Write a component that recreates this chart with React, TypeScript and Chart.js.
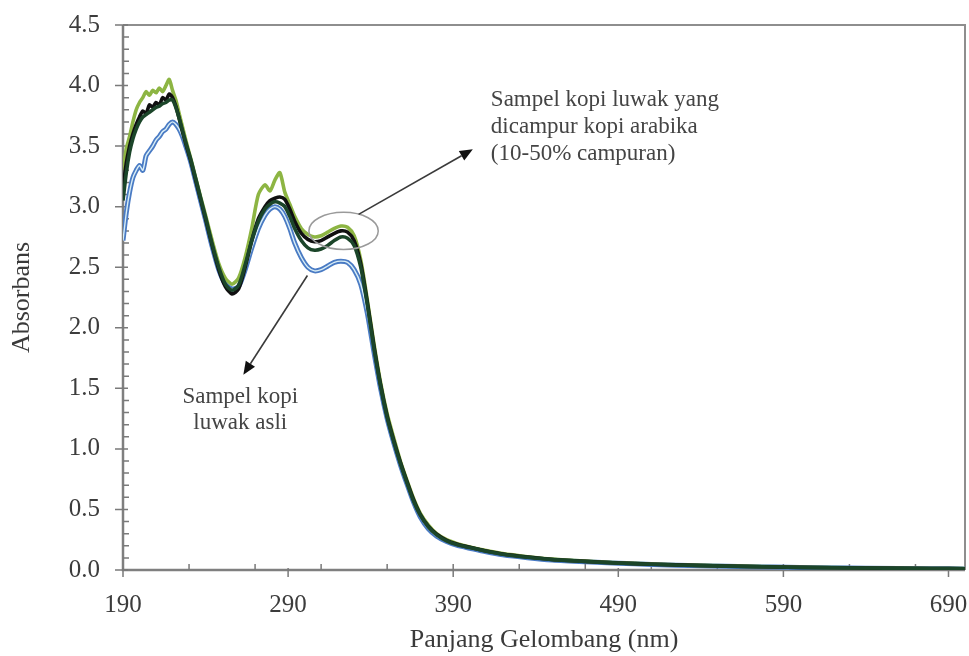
import React, { useEffect, useRef } from "react";
import { Chart, registerables } from "chart.js";

Chart.register(...registerables);

// Wavelength (nm) sample positions
const wavelengths = [
  190, 192, 194, 196, 198, 200, 202, 204, 206, 208,
  210, 212, 214, 216, 218, 220, 222, 224, 226, 228,
  231, 234, 237, 240, 244, 248, 252, 256, 260, 264,
  268, 272, 276, 279, 282, 285, 288, 291, 294, 298,
  302, 306, 310, 314, 318, 322, 326, 330, 334, 338,
  342, 346, 350, 354, 358, 362, 366, 370, 375, 380,
  386, 392, 400, 410, 420, 435, 450, 470, 490, 510,
  540, 570, 600, 640, 680, 700,
];

// Mixed samples (kopi luwak + arabika)
const mixGreen = [
  3.30, 3.48, 3.58, 3.70, 3.80, 3.86, 3.90, 3.95, 3.92, 3.96,
  3.94, 3.98, 3.95, 4.00, 4.05, 3.96, 3.88, 3.77, 3.66, 3.55,
  3.40, 3.24, 3.08, 2.93, 2.72, 2.53, 2.41, 2.36, 2.41, 2.58,
  2.82, 3.10, 3.18, 3.13, 3.22, 3.28, 3.12, 3.02, 2.92, 2.82,
  2.77, 2.75, 2.76, 2.79, 2.82, 2.84, 2.83, 2.76, 2.56, 2.23,
  1.87, 1.55, 1.29, 1.09, 0.90, 0.74, 0.59, 0.47, 0.37, 0.30,
  0.25, 0.22, 0.19, 0.16, 0.135, 0.11, 0.09, 0.073, 0.06, 0.05,
  0.038, 0.03, 0.023, 0.017, 0.013, 0.011,
];

const mixBlack = [
  3.15, 3.36, 3.50, 3.60, 3.68, 3.74, 3.79, 3.77, 3.84, 3.82,
  3.86, 3.84, 3.90, 3.88, 3.93, 3.90, 3.83, 3.73, 3.62, 3.52,
  3.38, 3.22, 3.06, 2.90, 2.68, 2.48, 2.34, 2.28, 2.32, 2.50,
  2.72, 2.90, 3.00, 3.05, 3.07, 3.08, 3.06, 2.98, 2.88, 2.78,
  2.73, 2.71, 2.72, 2.75, 2.78, 2.80, 2.79, 2.72, 2.53, 2.21,
  1.85, 1.53, 1.27, 1.07, 0.89, 0.73, 0.58, 0.46, 0.36, 0.295,
  0.245, 0.215, 0.187, 0.157, 0.132, 0.107, 0.087, 0.071, 0.058, 0.048,
  0.037, 0.029, 0.022, 0.016, 0.012, 0.01,
];

const mixDark = [
  3.05, 3.28, 3.45, 3.56, 3.64, 3.70, 3.74, 3.76, 3.78, 3.80,
  3.82, 3.83, 3.85, 3.86, 3.88, 3.88, 3.82, 3.73, 3.63, 3.53,
  3.39, 3.23, 3.07, 2.91, 2.69, 2.50, 2.36, 2.31, 2.35, 2.52,
  2.72, 2.88, 2.98, 3.02, 3.04, 3.03, 3.00, 2.92, 2.82, 2.72,
  2.66, 2.64, 2.65, 2.68, 2.72, 2.75, 2.74, 2.68, 2.50, 2.19,
  1.83, 1.52, 1.26, 1.06, 0.88, 0.72, 0.57, 0.455, 0.355, 0.29,
  0.24, 0.21, 0.185, 0.155, 0.13, 0.105, 0.086, 0.07, 0.057, 0.047,
  0.036, 0.028, 0.021, 0.016, 0.012, 0.01,
];

// Original kopi luwak sample
const original = [
  2.72, 2.95, 3.12, 3.24, 3.30, 3.34, 3.30, 3.42, 3.46, 3.50,
  3.55, 3.58, 3.62, 3.64, 3.68, 3.70, 3.68, 3.64, 3.58, 3.50,
  3.37, 3.21, 3.05, 2.89, 2.67, 2.48, 2.36, 2.32, 2.34, 2.48,
  2.66, 2.82, 2.93, 2.98, 3.00, 2.98, 2.92, 2.82, 2.70, 2.58,
  2.50, 2.47, 2.48, 2.51, 2.54, 2.55, 2.54, 2.48, 2.36, 2.12,
  1.80, 1.50, 1.25, 1.05, 0.87, 0.71, 0.56, 0.44, 0.34, 0.28,
  0.235, 0.205, 0.18, 0.15, 0.126, 0.102, 0.083, 0.068, 0.056, 0.046,
  0.035, 0.027, 0.021, 0.015, 0.011, 0.009,
];

// Axis ticks
const xTickLabels = [190, 290, 390, 490, 590, 690];
const xMinorTicks = [230, 270, 310, 350, 390, 430, 470, 510, 550, 590, 630, 670];
const yTickLabels = [0, 0.5, 1.0, 1.5, 2.0, 2.5, 3.0, 3.5, 4.0, 4.5];
const yMinorStep = 0.1;

// Annotations (data coordinates)
const ellipseCenter = [323.6, 2.8];
const ellipseRadii = [21, 0.153];
const arrowMixed = [332.7, 2.936, 401.9, 3.474];
const arrowOriginal = [301.7, 2.432, 262.9, 1.613];
const mixedLabel = ["Sampel kopi luwak yang", "dicampur kopi arabika", "(10-50% campuran)"];
const mixedLabelAt = [412.8, 3.879];
const originalLabel = ["Sampel kopi", "luwak asli"];
const originalLabelAt = [261, 1.431];

const SERIF = "'Liberation Serif', 'Times New Roman', serif";

const toPoints = (vals: number[]) => wavelengths.map((w, i) => ({ x: w, y: vals[i] }));

const frameAndTicks = {
  id: "frameAndTicks",
  beforeDatasetsDraw(chart: any) {
    const { ctx, chartArea: a, scales } = chart;
    const x = scales.x;
    const y = scales.y;
    ctx.save();
    ctx.lineCap = "butt";
    ctx.strokeStyle = "#8e8e8e";
    ctx.lineWidth = 2;
    ctx.beginPath();
    ctx.moveTo(a.left, a.top);
    ctx.lineTo(a.right, a.top);
    ctx.lineTo(a.right, a.bottom);
    ctx.stroke();
    ctx.strokeStyle = "#7f7f7f";
    ctx.lineWidth = 2.5;
    ctx.beginPath();
    ctx.moveTo(a.left, a.top);
    ctx.lineTo(a.left, a.bottom);
    ctx.lineTo(a.right, a.bottom);
    ctx.stroke();
    ctx.lineWidth = 1.5;
    ctx.strokeStyle = "#7a7a7a";
    ctx.beginPath();
    xTickLabels.forEach((v) => {
      const px = x.getPixelForValue(v);
      ctx.moveTo(px, a.bottom - 2);
      ctx.lineTo(px, a.bottom + 7);
    });
    xMinorTicks.forEach((v) => {
      const px = x.getPixelForValue(v);
      ctx.moveTo(px, a.bottom - 6);
      ctx.lineTo(px, a.bottom);
    });
    yTickLabels.forEach((v) => {
      const py = y.getPixelForValue(v);
      ctx.moveTo(a.left - 8, py);
      ctx.lineTo(a.left + 5, py);
    });
    for (let i = 0; i < yTickLabels.length - 1; i++) {
      for (let k = 1; k < 5; k++) {
        const v = yTickLabels[i] + k * yMinorStep;
        const py = y.getPixelForValue(v);
        ctx.moveTo(a.left, py);
        ctx.lineTo(a.left + 6, py);
      }
    }
    ctx.stroke();
    ctx.restore();
  },
};

function drawArrow(ctx: CanvasRenderingContext2D, x1: number, y1: number, x2: number, y2: number) {
  const ang = Math.atan2(y2 - y1, x2 - x1);
  const len = 13;
  const hw = 5.5;
  const bx = x2 - len * Math.cos(ang);
  const by = y2 - len * Math.sin(ang);
  ctx.beginPath();
  ctx.moveTo(x1, y1);
  ctx.lineTo(bx, by);
  ctx.stroke();
  ctx.beginPath();
  ctx.moveTo(x2, y2);
  ctx.lineTo(bx + hw * Math.sin(ang), by - hw * Math.cos(ang));
  ctx.lineTo(bx - hw * Math.sin(ang), by + hw * Math.cos(ang));
  ctx.closePath();
  ctx.fill();
}

const annotations = {
  id: "annotations",
  afterDatasetsDraw(chart: any) {
    const { ctx, scales } = chart;
    const x = scales.x;
    const y = scales.y;
    ctx.save();
    const cx = x.getPixelForValue(ellipseCenter[0]);
    const cy = y.getPixelForValue(ellipseCenter[1]);
    const rx = Math.abs(x.getPixelForValue(ellipseCenter[0] + ellipseRadii[0]) - cx);
    const ry = Math.abs(y.getPixelForValue(ellipseCenter[1] + ellipseRadii[1]) - cy);
    ctx.strokeStyle = "#9a9a9a";
    ctx.lineWidth = 1.5;
    ctx.beginPath();
    ctx.ellipse(cx, cy, rx, ry, 0, 0, Math.PI * 2);
    ctx.stroke();
    ctx.strokeStyle = "#3a3a3a";
    ctx.fillStyle = "#111";
    ctx.lineWidth = 1.6;
    [arrowMixed, arrowOriginal].forEach((a) => {
      drawArrow(
        ctx,
        x.getPixelForValue(a[0]),
        y.getPixelForValue(a[1]),
        x.getPixelForValue(a[2]),
        y.getPixelForValue(a[3])
      );
    });
    ctx.fillStyle = "#444444";
    ctx.font = `23px ${SERIF}`;
    ctx.textBaseline = "middle";
    ctx.textAlign = "left";
    const mx = x.getPixelForValue(mixedLabelAt[0]);
    const my = y.getPixelForValue(mixedLabelAt[1]);
    mixedLabel.forEach((t, i) => ctx.fillText(t, mx, my + i * 27));
    ctx.textAlign = "center";
    const ox = x.getPixelForValue(originalLabelAt[0]);
    const oy = y.getPixelForValue(originalLabelAt[1]);
    originalLabel.forEach((t, i) => ctx.fillText(t, ox, oy + i * 26));
    ctx.restore();
  },
};

export default function App() {
  const canvasRef = useRef<HTMLCanvasElement | null>(null);

  useEffect(() => {
    if (!canvasRef.current) return;
    const line = (data: number[], color: string, width: number, order: number) => ({
      data: toPoints(data),
      borderColor: color,
      backgroundColor: color,
      borderWidth: width,
      pointRadius: 0,
      tension: 0.25,
      fill: false,
      order,
    });
    const chart = new Chart(canvasRef.current, {
      type: "line",
      data: {
        datasets: [
          line(original, "#4a7bc4", 5, 6),
          line(original, "#d9eef6", 1.4, 5),
          line(mixGreen, "#8db543", 3.6, 4),
          line(mixBlack, "#101010", 3.6, 3),
          line(mixDark, "#1b4529", 3.6, 2),
        ] as any,
      },
      plugins: [frameAndTicks, annotations],
      options: {
        animation: false,
        responsive: false,
        devicePixelRatio: 1,
        layout: { padding: { top: 25, right: 4, left: 0, bottom: 0 } },
        plugins: {
          legend: { display: false },
          tooltip: { enabled: false },
        },
        scales: {
          x: {
            type: "linear",
            min: 190,
            max: 700,
            grid: { display: false, drawTicks: false },
            border: { display: false },
            afterBuildTicks: (s: any) => {
              s.ticks = xTickLabels.map((v) => ({ value: v }));
            },
            afterFit: (s: any) => {
              s.height = 86;
              s.paddingLeft = 0;
              s.paddingRight = 0;
            },
            ticks: {
              autoSkip: false,
              maxRotation: 0,
              padding: 20,
              color: "#3c3c3c",
              font: { family: SERIF, size: 25 },
              callback: (v: any) => String(v),
            },
            title: {
              display: true,
              text: "Panjang Gelombang (nm)",
              color: "#3a3a3a",
              font: { family: SERIF, size: 26 },
              padding: { top: 0, bottom: 0 },
            },
          },
          y: {
            type: "linear",
            min: 0,
            max: 4.5,
            grid: { display: false, drawTicks: false },
            border: { display: false },
            afterBuildTicks: (s: any) => {
              s.ticks = yTickLabels.map((v) => ({ value: v }));
            },
            afterFit: (s: any) => {
              s.width = 123;
              s.paddingTop = 0;
              s.paddingBottom = 0;
            },
            ticks: {
              autoSkip: false,
              padding: 23,
              color: "#3c3c3c",
              font: { family: SERIF, size: 25 },
              callback: (v: any) => Number(v).toFixed(1),
            },
            title: {
              display: true,
              text: "Absorbans",
              color: "#3a3a3a",
              font: { family: SERIF, size: 26 },
              padding: { top: 7, bottom: 0 },
            },
          },
        },
      },
    });
    return () => chart.destroy();
  }, []);

  return (
    <div style={{ position: "fixed", left: 0, top: 0, width: 969, height: 656, background: "#fff" }}>
      <canvas ref={canvasRef} width={969} height={656} style={{ width: 969, height: 656, display: "block" }} />
    </div>
  );
}
